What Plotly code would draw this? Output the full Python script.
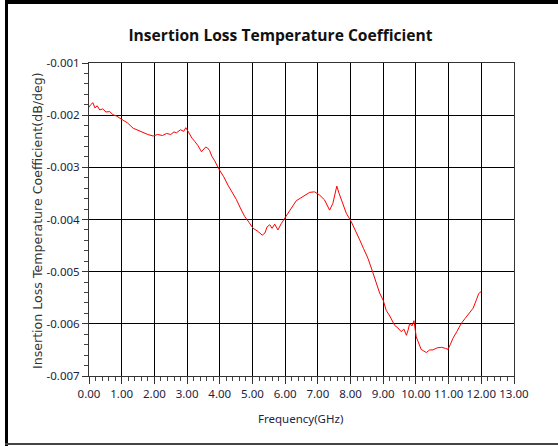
import plotly.graph_objects as go

# Frequency (GHz) and insertion-loss temperature coefficient (dB/deg)
freq = [0.0, 0.05, 0.12, 0.18, 0.25, 0.33, 0.42, 0.52, 0.63, 0.73, 0.85, 1.02, 1.18, 1.35,
        1.5, 1.65, 1.8, 1.96, 2.1, 2.25, 2.37, 2.5, 2.6, 2.67, 2.8, 2.9, 2.96, 3.02, 3.08,
        3.15, 3.23, 3.33, 3.44, 3.5, 3.57, 3.63, 3.69, 3.76, 3.84, 3.99, 4.12, 4.25, 4.38,
        4.51, 4.63, 4.76, 4.9, 5.02, 5.15, 5.3, 5.38, 5.45, 5.53, 5.6, 5.68, 5.78, 5.88,
        5.98, 6.15, 6.34, 6.55, 6.75, 6.9, 7.05, 7.2, 7.36, 7.46, 7.52, 7.58, 7.65, 7.72,
        7.87, 8.02, 8.15, 8.28, 8.4, 8.53, 8.69, 8.8, 8.89, 9.0, 9.09, 9.2, 9.35, 9.45,
        9.55, 9.63, 9.71, 9.76, 9.81, 9.88, 9.94, 10.01, 10.08, 10.16, 10.24, 10.32, 10.42,
        10.52, 10.65, 10.78, 10.9, 10.98, 11.05, 11.13, 11.25, 11.39, 11.5, 11.64, 11.75,
        11.85, 11.92, 12.0]

coeff = [-0.00185, -0.00180, -0.00176, -0.00186, -0.00182, -0.00190, -0.00188, -0.00194,
         -0.00193, -0.00199, -0.00202, -0.00209, -0.00215, -0.00225, -0.00229, -0.00234,
         -0.00237, -0.00240, -0.00237, -0.00239, -0.00235, -0.00237, -0.00232, -0.00234,
         -0.00228, -0.00231, -0.00224, -0.00230, -0.00238, -0.00244, -0.00250, -0.00258,
         -0.00270, -0.00266, -0.00261, -0.00263, -0.00268, -0.00279, -0.00287, -0.00305,
         -0.00318, -0.00334, -0.00347, -0.00362, -0.00378, -0.00394, -0.00406, -0.00417,
         -0.00422, -0.00430, -0.00426, -0.00414, -0.00410, -0.00417, -0.00409, -0.00420,
         -0.00408, -0.00399, -0.00382, -0.00364, -0.00355, -0.00348, -0.00347, -0.00353,
         -0.00362, -0.00382, -0.00369, -0.00350, -0.00336, -0.00350, -0.00362, -0.00388,
         -0.00404, -0.00420, -0.00439, -0.00456, -0.00474, -0.00503, -0.00522, -0.00541,
         -0.00555, -0.00574, -0.00585, -0.00603, -0.00608, -0.00615, -0.00610, -0.00622,
         -0.00612, -0.00599, -0.00604, -0.00594, -0.00625, -0.00638, -0.00649, -0.00652,
         -0.00655, -0.00650, -0.00650, -0.00646, -0.00645, -0.00647, -0.00649, -0.00640,
         -0.00628, -0.00615, -0.00599, -0.00590, -0.00580, -0.00570, -0.00554, -0.00542,
         -0.00538]

x_ticks = [float(i) for i in range(0, 14)]
x_labels = ["0.00", "1.00", "2.00", "3.00", "4.00", "5.00", "6.00", "7.00", "8.00",
            "9.00", "10.00", "11.00", "12.00", "13.00"]
y_ticks = [-0.001, -0.002, -0.003, -0.004, -0.005, -0.006, -0.007]
y_labels = ["-0.001", "-0.002", "-0.003", "-0.004", "-0.005", "-0.006", "-0.007"]

W, H = 558, 446
L, R, T, B = 89, 44, 63, 70
pw, ph = W - L - R, H - T - B


def px(xp):
    return (xp - L) / pw


def py(yp):
    return (H - B - yp) / ph


fig = go.Figure()
fig.add_trace(go.Scatter(x=freq, y=coeff, mode="lines",
                         line=dict(color="#ff0000", width=1), showlegend=False,
                         hoverinfo="x+y"))

tick_font = dict(family="Noto Sans", size=11.5, color="#1e2440")

fig.update_layout(
    width=W, height=H,
    margin=dict(l=L, r=R, t=T, b=B),
    paper_bgcolor="white", plot_bgcolor="white",
    title=dict(text="<b>Insertion Loss Temperature Coefficient</b>",
               x=280.5 / W, xanchor="center", y=(H - 36) / H, yanchor="middle",
               font=dict(family="Open Sans", size=15.6, color="#111111")),
    xaxis=dict(range=[0, 13], tickvals=x_ticks, ticktext=x_labels,
               showgrid=True, gridcolor="#000000", gridwidth=1,
               showline=True, linecolor="#333333", linewidth=1, mirror=True,
               ticks="outside", ticklen=7, tickcolor="#333333",
               minor=dict(dtick=0.2, ticks="outside", ticklen=4, tickcolor="#444444",
                          showgrid=False),
               tickfont=tick_font, zeroline=False, fixedrange=True),
    yaxis=dict(range=[-0.007, -0.001], tickvals=y_ticks, ticktext=y_labels,
               showgrid=True, gridcolor="#000000", gridwidth=1,
               showline=True, linecolor="#333333", linewidth=1, mirror=True,
               ticks="outside", ticklen=6, tickcolor="#333333",
               minor=dict(dtick=0.0002, ticks="outside", ticklen=4, tickcolor="#444444",
                          showgrid=False),
               tickfont=tick_font, zeroline=False, fixedrange=True),
)

fig.add_annotation(text="Frequency(GHz)", xref="paper", yref="paper",
                   x=px(300), y=py(418), showarrow=False, xanchor="center", yanchor="middle",
                   font=dict(family="Noto Sans", size=11.5, color="#1e2440"))
fig.add_annotation(text="Insertion Loss Temperature Coefficient(dB/deg)",
                   xref="paper", yref="paper", x=px(37), y=py(221), textangle=-90,
                   showarrow=False, xanchor="center", yanchor="middle",
                   font=dict(family="DejaVu Sans", size=12.6, color="#333333"))

# outer frame pieces
fig.add_shape(type="rect", xref="paper", yref="paper", x0=px(5), x1=px(8),
              y0=py(0), y1=py(H), fillcolor="#000000", line=dict(width=0))
fig.add_shape(type="rect", xref="paper", yref="paper", x0=px(5), x1=px(W),
              y0=py(0), y1=py(4), fillcolor="#000000", line=dict(width=0))
fig.add_shape(type="line", xref="paper", yref="paper", x0=px(5), x1=px(W),
              y0=py(444), y1=py(444), line=dict(color="#444444", width=2))

fig.write_html("out.html", config={"displayModeBar": False},
               post_script="document.body.style.margin='0';document.body.style.overflow='hidden';")
